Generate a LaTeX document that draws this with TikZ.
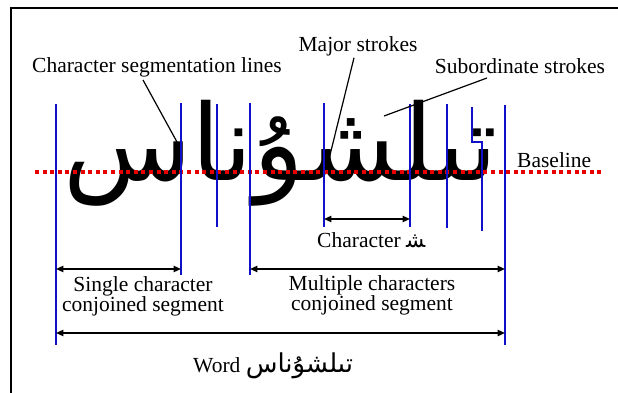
\documentclass[tikz,border=0pt]{standalone}
\usepackage{fontspec}
\setmainfont{Liberation Serif}
\newfontfamily\arabicfont[Script=Arabic]{DejaVu Sans}
\TeXXeTstate=1
\usepackage{graphicx}
\usepackage{xcolor}
\definecolor{segblue}{HTML}{1010C8}
\definecolor{basered}{HTML}{E80000}
\usetikzlibrary{arrows.meta,positioning,calc}
\tikzset{
  >={Triangle[length=2.6mm,width=2.2mm]},
  frameline/.style={draw=black,line width=2pt},
  segline/.style ={draw=segblue,line width=1.4pt},
  redbase/.style ={draw=basered,line width=3.6pt,dash pattern=on 4pt off 3.6pt},
  dim/.style     ={<->,draw=black,line width=1.6pt},
  leader/.style  ={draw=black,line width=1.2pt},
  lbl/.style     ={font=\fontsize{21.5}{20}\selectfont,inner sep=0pt,align=center},
}
\begin{document}
\begin{tikzpicture}[x=1pt,y=-1pt]
\useasboundingbox (0,0) rectangle (618,393);
\draw[frameline] (11,393) -- (11,8) -- (618,8);
% handwritten word
\node[inner sep=0pt,anchor=north west] (hw) at (63,100)
 {\resizebox*{434pt}{106pt}{\arabicfont\beginR تىلشۇناس\endR}};
\draw[redbase] (35,172) -- (603,172);
% segmentation lines
\foreach \n/\x/\t/\b in {1/56/104/345,2/181/103/275,3/217/104/227,4/250/103/275,
                         5/324/103/227,6/410/104/227,7/447/104/228,9/505/105/345}{
  \coordinate (s\n t) at (\x,\t);
  \coordinate (s\n b) at (\x,\b);
  \draw[segline] (s\n t) -- (s\n b);
}
\coordinate (s8t) at (472,107);
\coordinate (s8b) at (482,231);
\draw[segline] (s8t) |- (482,142) -- (s8b);
% labels
\node[lbl,anchor=base west] (cseg) at (32,73) {Character segmentation lines};
\node[lbl,anchor=base] (major) at (358,52) {Major strokes};
\node[lbl,anchor=base] (subord) at (520,74) {Subordinate strokes};
\node[lbl,anchor=base west] (basel) at (517,167) {Baseline};
\node[lbl,anchor=base west] (chr) at (317,247)
 {Character {\arabicfont\beginR ^^^^200dش^^^^200d\endR}};
\node[lbl,anchor=north] (single) at (143,276) {Single character\\conjoined segment};
\node[lbl,anchor=north] (multi) at (372,275) {Multiple characters\\conjoined segment};
\node[lbl,anchor=base west] (word) at (193,372)
 {Word {\arabicfont\fontsize{26}{30}\selectfont\beginR تىلشۇناس\endR}};
% leaders
\coordinate (p1) at (177,142);
\coordinate (p2) at (330,155);
\coordinate (p3) at (384,116);
\draw[leader] (143,80) -- (p1);
\draw[leader] (major.south) ++(-4,1) -- (p2);
\draw[leader] (487,78) -- (p3);
% dimension arrows
\draw[dim] (s5b |- 0,219) -- (s6b |- 0,219);
\draw[dim] (s1b |- 0,269) -- (s2b |- 0,269);
\draw[dim] (s4b |- 0,269) -- (s9b |- 0,269);
\draw[dim] (s1b |- 0,333) -- (s9b |- 0,333);
\end{tikzpicture}
\end{document}
